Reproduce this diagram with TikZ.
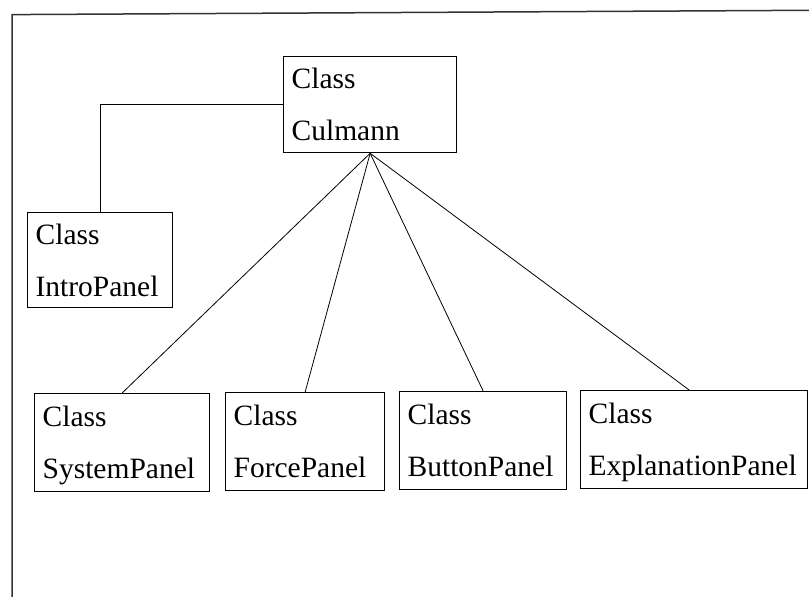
\documentclass[tikz,border=0pt]{standalone}
\usepackage{fontspec}
\setmainfont{Liberation Serif}
\usetikzlibrary{positioning}

\begin{document}
\begin{tikzpicture}[x=1pt, y=-1pt, line width=0.8pt,
  cls/.style={draw, line width=1.3pt, anchor=north west, align=left,
    inner xsep=8pt, inner ysep=0pt, minimum height=97pt,
    font=\fontsize{29.5}{52}\selectfont}]
  \useasboundingbox (0,0) rectangle (809,597);
  % frame of the scanned page
  \draw[line width=1.5pt, black!80] (12,597) -- (12,14.6) -- (809,10.3);

  \node[cls, text width=157pt, minimum height=96pt] (culmann) at (283,56) {Class\\\smash{Culmann}};
  \node[cls, text width=129pt, minimum height=95pt] (intro) at (27,212) {Class\\\smash{IntroPanel}};
  \node[cls, text width=159pt, minimum height=98pt] (system) at (34,393) {Class\\\smash{SystemPanel}};
  \node[cls, text width=143pt, minimum height=98pt] (force) at (225,392) {Class\\\smash{ForcePanel}};
  \node[cls, text width=151pt, minimum height=98pt] (button) at (399,391) {Class\\\smash{ButtonPanel}};
  \node[cls, text width=211pt, minimum height=98pt] (explain) at (580,390) {Class\\\smash{ExplanationPanel}};

  \draw (culmann.west) -| (intro.north);
  \draw (culmann.south) -- (system.north);
  \draw (culmann.south) -- (force.north);
  \draw (culmann.south) -- (button.north);
  \draw (culmann.south) -- ([xshift=-5pt]explain.north);
\end{tikzpicture}
\end{document}
